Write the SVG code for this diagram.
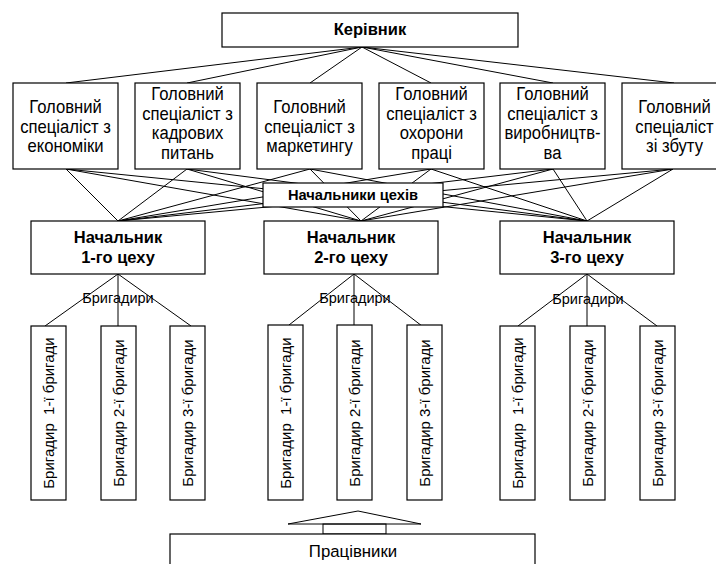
<svg xmlns="http://www.w3.org/2000/svg" width="716" height="564" viewBox="0 0 716 564">
<style>
.box{fill:#fff;stroke:#000;stroke-width:1.2}
.ln{stroke:#000;stroke-width:1;fill:none}
.t{font-family:"Liberation Sans",Arial,sans-serif;font-size:16.8px;fill:#000;text-anchor:middle}
.s{font-family:"Liberation Sans",Arial,sans-serif;font-size:18.5px;fill:#000;text-anchor:middle}
.b{font-family:"Liberation Sans",Arial,sans-serif;font-weight:bold;font-size:16.5px;fill:#000;text-anchor:middle}
.v{font-family:"Liberation Sans",Arial,sans-serif;font-size:15px;fill:#000;text-anchor:middle;white-space:pre}
.lbl{font-family:"Liberation Sans",Arial,sans-serif;font-size:14.5px;fill:#000;text-anchor:middle}
</style>
<rect width="716" height="564" fill="#fff"/>
<g id="connectors" class="ln">
<path d="M362,47L66,83M362,47L187,83M362,47L310,83M362,47L431,83M362,47L553,83M362,47L674,83"/>
<path d="M66,169L118,221M66,169L361,221M66,169L587,221"/>
<path d="M187,169L118,221M187,169L361,221M187,169L587,221"/>
<path d="M310,169L118,221M310,169L361,221M310,169L587,221"/>
<path d="M431,169L118,221M431,169L361,221M431,169L587,221"/>
<path d="M553,169L118,221M553,169L361,221M553,169L587,221"/>
<path d="M673,169L118,221M673,169L361,221M673,169L587,221"/>
<path d="M118,274L45,326M118,274L118,326M118,274L191,326"/>
<path d="M354,274L289,325M354,274L354,326M354,274L422,326"/>
<path d="M587,274L518,326M587,274L587,326M587,274L657,326"/>
<polygon points="288,524 358,511 421,524"/>
<rect x="323" y="524" width="63" height="10"/>
</g>
<g id="kerivnyk"><rect class="box" x="222" y="13" width="296" height="34"/><text class="b" x="370" y="35">Керівник</text></g>
<g id="spec1"><rect class="box" x="13" y="83" width="105" height="86"/><g transform="translate(65.5,0) scale(0.9,1)"><text class="s" x="0" y="113.5">Головний</text><text class="s" x="0" y="133">спеціаліст з</text><text class="s" x="0" y="152.5">економіки</text></g></g>
<g id="spec2"><rect class="box" x="135" y="83" width="105" height="86"/><g transform="translate(187.5,0) scale(0.9,1)"><text class="s" x="0" y="100.5">Головний</text><text class="s" x="0" y="120">спеціаліст з</text><text class="s" x="0" y="139.5">кадрових</text><text class="s" x="0" y="159">питань</text></g></g>
<g id="spec3"><rect class="box" x="257" y="83" width="105" height="86"/><g transform="translate(309.5,0) scale(0.9,1)"><text class="s" x="0" y="113.5">Головний</text><text class="s" x="0" y="133">спеціаліст з</text><text class="s" x="0" y="152.5">маркетингу</text></g></g>
<g id="spec4"><rect class="box" x="379" y="83" width="105" height="86"/><g transform="translate(431.5,0) scale(0.9,1)"><text class="s" x="0" y="100.5">Головний</text><text class="s" x="0" y="120">спеціаліст з</text><text class="s" x="0" y="139.5">охорони</text><text class="s" x="0" y="159">праці</text></g></g>
<g id="spec5"><rect class="box" x="500" y="83" width="105" height="86"/><g transform="translate(552.5,0) scale(0.9,1)"><text class="s" x="0" y="100.5">Головний</text><text class="s" x="0" y="120">спеціаліст з</text><text class="s" x="0" y="139.5">виробництв-</text><text class="s" x="0" y="159">ва</text></g></g>
<g id="spec6"><rect class="box" x="622" y="83" width="105" height="86"/><g transform="translate(674.5,0) scale(0.9,1)"><text class="s" x="0" y="113.5">Головний</text><text class="s" x="0" y="133">спеціаліст</text><text class="s" x="0" y="152.5">зі збуту</text></g></g>
<g id="nachalnyky"><rect class="box" x="263" y="183" width="180" height="24"/><text class="b" x="353" y="199.5" style="font-size:14.7px">Начальники цехів</text></g>
<g id="chief1"><rect class="box" x="31" y="221" width="174" height="53"/><text class="b" x="118" y="243">Начальник</text><text class="b" x="118" y="263">1-го цеху</text></g>
<g id="chief2"><rect class="box" x="264" y="221" width="174" height="53"/><text class="b" x="351" y="243">Начальник</text><text class="b" x="351" y="263">2-го цеху</text></g>
<g id="chief3"><rect class="box" x="500" y="221" width="174" height="53"/><text class="b" x="587" y="243">Начальник</text><text class="b" x="587" y="263">3-го цеху</text></g>
<g id="labels"><text class="lbl" x="118" y="303">Бригадири</text><text class="lbl" x="355" y="303">Бригадири</text><text class="lbl" x="588" y="304">Бригадири</text></g>
<g id="b11"><rect class="box" x="31" y="326" width="35" height="174"/><text class="v" xml:space="preserve" transform="translate(48.5,413) rotate(-90)" y="5">Бригадир  1-ї бригади</text></g>
<g id="b12"><rect class="box" x="101" y="326" width="35" height="174"/><text class="v" transform="translate(118.5,413) rotate(-90)" y="5">Бригадир 2-ї бригади</text></g>
<g id="b13"><rect class="box" x="170" y="326" width="35" height="174"/><text class="v" transform="translate(187.5,413) rotate(-90)" y="5">Бригадир 3-ї бригади</text></g>
<g id="b21"><rect class="box" x="268" y="325" width="35" height="175"/><text class="v" xml:space="preserve" transform="translate(285.5,413) rotate(-90)" y="5">Бригадир  1-ї бригади</text></g>
<g id="b22"><rect class="box" x="337" y="325" width="35" height="175"/><text class="v" transform="translate(354.5,413) rotate(-90)" y="5">Бригадир 2-ї бригади</text></g>
<g id="b23"><rect class="box" x="407" y="325" width="35" height="175"/><text class="v" transform="translate(424.5,413) rotate(-90)" y="5">Бригадир 3-ї бригади</text></g>
<g id="b31"><rect class="box" x="500" y="326" width="35" height="174"/><text class="v" xml:space="preserve" transform="translate(517.5,413) rotate(-90)" y="5">Бригадир  1-ї бригади</text></g>
<g id="b32"><rect class="box" x="570" y="326" width="35" height="174"/><text class="v" transform="translate(587.5,413) rotate(-90)" y="5">Бригадир 2-ї бригади</text></g>
<g id="b33"><rect class="box" x="640" y="326" width="35" height="174"/><text class="v" transform="translate(657.5,413) rotate(-90)" y="5">Бригадир 3-ї бригади</text></g>
<g id="pratsivnyky"><rect class="box" x="170" y="534" width="365" height="40"/><text class="t" x="353" y="557">Працівники</text></g>
</svg>
